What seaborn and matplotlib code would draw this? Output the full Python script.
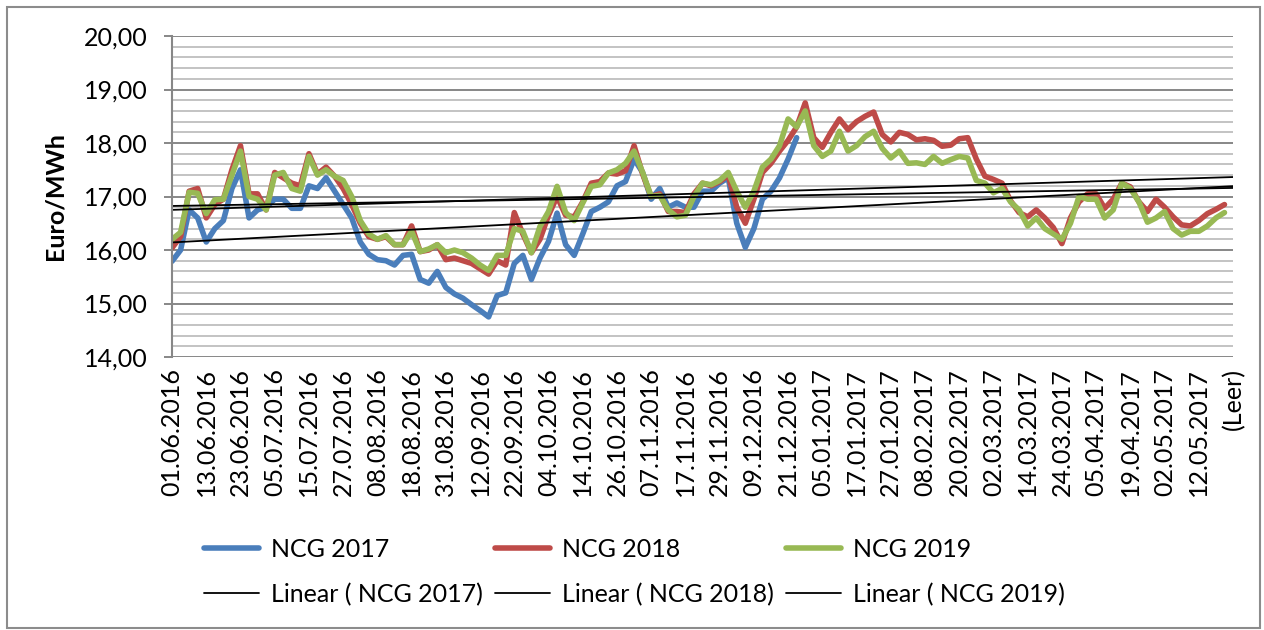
import matplotlib

matplotlib.use("Agg")

import matplotlib.pyplot as plt  # noqa: E402
import numpy as np  # noqa: E402
import seaborn as sns  # noqa: E402
from matplotlib.patches import Rectangle  # noqa: E402
from matplotlib.ticker import FuncFormatter, MultipleLocator  # noqa: E402

# category labels (every 8th trading day is labelled)
date_labels = [
    "01.06.2016", "13.06.2016", "23.06.2016", "05.07.2016", "15.07.2016",
    "27.07.2016", "08.08.2016", "18.08.2016", "31.08.2016", "12.09.2016",
    "22.09.2016", "04.10.2016", "14.10.2016", "26.10.2016", "07.11.2016",
    "17.11.2016", "29.11.2016", "09.12.2016", "21.12.2016", "05.01.2017",
    "17.01.2017", "27.01.2017", "08.02.2017", "20.02.2017", "02.03.2017",
    "14.03.2017", "24.03.2017", "05.04.2017", "19.04.2017", "02.05.2017",
    "12.05.2017", "(Leer)",
]
label_every = 8
sample_step = 2  # values below are read every 2nd trading day

# Euro/MWh
ncg_2017 = [
    15.79, 16.00, 16.75, 16.60, 16.15, 16.40, 16.55, 17.15,
    17.50, 16.60, 16.75, 16.80, 16.95, 16.95, 16.78, 16.78,
    17.20, 17.15, 17.35, 17.10, 16.85, 16.60, 16.15, 15.92,
    15.82, 15.80, 15.72, 15.90, 15.92, 15.45, 15.38, 15.60,
    15.30, 15.18, 15.10, 14.98, 14.87, 14.75, 15.15, 15.20,
    15.75, 15.90, 15.45, 15.85, 16.16, 16.69, 16.10, 15.90,
    16.30, 16.72, 16.80, 16.90, 17.20, 17.28, 17.70, 17.45,
    16.95, 17.15, 16.80, 16.88, 16.80, 16.80, 17.10, 17.10,
    17.25, 17.35, 16.50, 16.05, 16.40, 16.95, 17.10, 17.35,
    17.70, 18.10,
]
ncg_2018 = [
    16.04, 16.25, 17.10, 17.15, 16.60, 16.85, 16.95, 17.50,
    17.95, 17.05, 17.05, 16.75, 17.45, 17.35, 17.25, 17.20,
    17.80, 17.42, 17.55, 17.38, 17.15, 16.85, 16.50, 16.25,
    16.20, 16.25, 16.10, 16.10, 16.45, 15.97, 16.00, 16.10,
    15.82, 15.85, 15.80, 15.75, 15.65, 15.55, 15.80, 15.72,
    16.70, 16.30, 15.95, 16.20, 16.65, 17.00, 16.65, 16.62,
    16.90, 17.25, 17.28, 17.44, 17.42, 17.48, 17.95, 17.42,
    17.00, 17.05, 16.72, 16.72, 16.70, 17.05, 17.25, 17.20,
    17.28, 17.40, 16.80, 16.50, 16.95, 17.45, 17.62, 17.85,
    18.05, 18.30, 18.75, 18.10, 17.92, 18.20, 18.45, 18.25,
    18.40, 18.50, 18.58, 18.16, 18.02, 18.20, 18.16, 18.06,
    18.08, 18.05, 17.94, 17.96, 18.08, 18.10, 17.70, 17.38,
    17.32, 17.25, 16.92, 16.70, 16.62, 16.75, 16.60, 16.42,
    16.12, 16.60, 16.90, 17.05, 17.05, 16.78, 16.95, 17.25,
    17.18, 16.90, 16.72, 16.95, 16.80, 16.62, 16.47, 16.45,
    16.55, 16.68, 16.76, 16.85,
]
ncg_2019 = [
    16.20, 16.33, 17.08, 17.06, 16.68, 16.94, 16.95, 17.40,
    17.85, 17.00, 16.95, 16.75, 17.40, 17.45, 17.15, 17.10,
    17.75, 17.40, 17.50, 17.38, 17.30, 17.00, 16.55, 16.30,
    16.20, 16.27, 16.10, 16.10, 16.35, 15.97, 16.02, 16.10,
    15.95, 16.00, 15.95, 15.85, 15.72, 15.62, 15.90, 15.90,
    16.40, 16.35, 15.95, 16.44, 16.72, 17.19, 16.70, 16.55,
    16.88, 17.19, 17.22, 17.44, 17.50, 17.62, 17.85, 17.45,
    17.00, 17.02, 16.75, 16.62, 16.65, 17.00, 17.25, 17.22,
    17.30, 17.45, 17.10, 16.80, 17.10, 17.55, 17.70, 17.95,
    18.45, 18.30, 18.60, 17.95, 17.75, 17.85, 18.22, 17.85,
    17.95, 18.12, 18.22, 17.90, 17.72, 17.85, 17.62, 17.63,
    17.60, 17.75, 17.62, 17.69, 17.75, 17.72, 17.30, 17.25,
    17.07, 17.15, 16.90, 16.75, 16.45, 16.60, 16.40, 16.30,
    16.20, 16.50, 17.00, 16.95, 16.95, 16.60, 16.75, 17.25,
    17.15, 16.90, 16.52, 16.60, 16.72, 16.40, 16.28, 16.35,
    16.35, 16.45, 16.60, 16.70,
]

series = [
    ("NCG 2017", ncg_2017, "#4A7EBB"),
    ("NCG 2018", ncg_2018, "#BE4B48"),
    ("NCG 2019", ncg_2019, "#98B954"),
]

sns.set_theme(style="white")
plt.rcParams["font.family"] = ["Lato", "DejaVu Sans"]
plt.rcParams["text.color"] = "black"

fig = plt.figure(figsize=(12.64, 6.30), dpi=100)
ax = fig.add_axes([0.1361, 0.4333, 0.8394, 0.5095])

last_cat = (len(date_labels) - 1) * label_every

data_handles, trend_handles = [], []
for name, vals, color in series:
    x = np.arange(len(vals)) * sample_step
    sns.lineplot(x=x, y=vals, color=color, lw=4.0, ax=ax)
    line = ax.lines[-1]
    line.set_solid_joinstyle("round")
    line.set_solid_capstyle("round")
    data_handles.append(line)

# Excel-style linear trend lines over the whole category axis
xs = np.array([0, last_cat])
for name, vals, color in series:
    x = np.arange(len(vals)) * sample_step
    k, b = np.polyfit(x, vals, 1)
    (tl,) = ax.plot(xs, k * xs + b, color="black", lw=1.3)
    trend_handles.append(tl)

ax.set_xlim(0, last_cat)
ax.set_ylim(14, 20)
ax.yaxis.set_major_locator(MultipleLocator(1))
ax.yaxis.set_minor_locator(MultipleLocator(0.2))
ax.yaxis.set_major_formatter(FuncFormatter(lambda v, _: f"{v:.2f}".replace(".", ",")))
ax.grid(which="major", axis="y", color="#878787", lw=1.4)
ax.grid(which="minor", axis="y", color="#C3C3C3", lw=1.4)
ax.grid(which="both", axis="x", visible=False)
ax.set_axisbelow(True)

for side in ["top", "right", "bottom"]:
    ax.spines[side].set_visible(False)
ax.spines["left"].set_color("#878787")
ax.spines["left"].set_linewidth(1.5)

ax.set_xticks(np.arange(len(date_labels)) * label_every)
ax.set_xticklabels(date_labels, rotation=90)
ax.tick_params(axis="x", length=0, pad=8, labelsize=18, colors="black")
ax.tick_params(axis="y", which="major", length=5.5, width=1.4, color="#878787",
               pad=12, labelsize=18, labelcolor="black", left=True)
ax.tick_params(axis="y", which="minor", length=0)

ax.set_ylabel("Euro/MWh", fontsize=18, fontweight="bold", color="black")
ax.yaxis.set_label_coords(-0.099, 0.5)

handles, labels = [], []
for (name, _, _), dh, th in zip(series, data_handles, trend_handles):
    handles += [dh, th]
    labels += [name, f"Linear ( {name})"]
fig.legend(handles, labels, ncol=3, loc="center", bbox_to_anchor=(0.502, 0.092),
           frameon=False, fontsize=18, handlelength=2.2, handletextpad=0.5,
           columnspacing=0.46, labelspacing=0.88)

fig.add_artist(Rectangle((7 / 1264, 0.003), (1260 - 7) / 1264, 0.986,
                         transform=fig.transFigure, fill=False,
                         edgecolor="#8C8C8C", lw=1.5))

fig.savefig("out.png", dpi=100)
